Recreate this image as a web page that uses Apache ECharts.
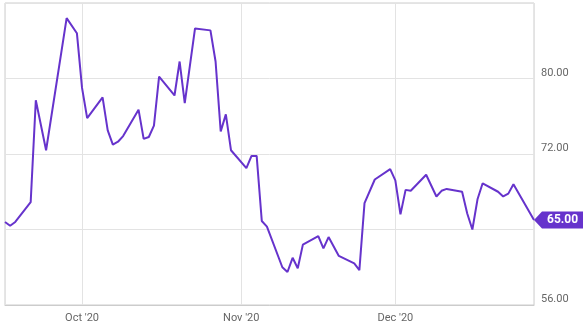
<!DOCTYPE html>
<html><head><meta charset="utf-8">
<script src="https://cdn.jsdelivr.net/npm/echarts@6/dist/echarts.min.js"></script>
<style>html,body{margin:0;padding:0;background:#fff}#c{width:586px;height:331px}</style>
</head><body><div id="c"></div>
<script>
const dates = ['2020-09-16','2020-09-17','2020-09-18','2020-09-21','2020-09-22','2020-09-24','2020-09-28','2020-09-30',
'2020-10-01','2020-10-02','2020-10-05','2020-10-06','2020-10-07','2020-10-08','2020-10-09','2020-10-12','2020-10-13','2020-10-14','2020-10-15','2020-10-16',
'2020-10-19','2020-10-20','2020-10-21','2020-10-23','2020-10-26','2020-10-27','2020-10-28','2020-10-29','2020-10-30',
'2020-11-02','2020-11-03','2020-11-04','2020-11-05','2020-11-06','2020-11-09','2020-11-10','2020-11-11','2020-11-12','2020-11-13',
'2020-11-16','2020-11-17','2020-11-18','2020-11-20','2020-11-23','2020-11-24','2020-11-25','2020-11-27','2020-11-30',
'2020-12-01','2020-12-02','2020-12-03','2020-12-04','2020-12-07','2020-12-09','2020-12-10','2020-12-11','2020-12-14','2020-12-15',
'2020-12-16','2020-12-17','2020-12-18','2020-12-21','2020-12-22','2020-12-23','2020-12-24','2020-12-28'];
const values = [64.8,64.4,64.8,66.9,77.7,72.4,86.4,84.8,
79.0,75.8,78.0,74.5,73.0,73.3,73.9,76.7,73.6,73.8,75.0,80.2,
78.2,81.8,77.4,85.3,85.1,81.8,74.4,76.2,72.4,
70.5,71.8,71.8,64.9,64.3,60.0,59.5,61.0,59.9,62.4,
63.3,62.0,63.2,61.2,60.4,59.7,66.8,69.3,70.4,
69.2,65.6,68.2,68.1,69.8,67.5,68.1,68.3,68.0,65.7,
64.0,67.2,68.9,68.0,67.5,67.8,68.8,65.0];
const yTicks = [56, 64, 72, 80, 88];
const yHidden = [64, 88];
const monthNames = ['Jan','Feb','Mar','Apr','May','Jun','Jul','Aug','Sep','Oct','Nov','Dec'];

const purple = '#6633cc';
const data = dates.map((d, i) => [d, values[i]]);
const last = data[data.length - 1];

const chart = echarts.init(document.getElementById('c'));
chart.setOption({
  animation: false,
  backgroundColor: '#fff',
  grid: { left: 5, right: 52, top: 3, bottom: 26, show: true, borderColor: '#cccccc', borderWidth: 1 },
  xAxis: {
    type: 'time',
    min: dates[0], max: dates[dates.length - 1],
    minInterval: 28 * 86400000,
    maxInterval: 31 * 86400000,
    axisLine: { show: true, lineStyle: { color: '#cccccc' } },
    axisTick: { show: false },
    splitLine: { show: true, lineStyle: { color: '#e3e3e3' } },
    axisLabel: {
      showMinLabel: false, showMaxLabel: false,
      color: '#666', fontSize: 11, fontFamily: 'Roboto', margin: 8,
      formatter: function (v) { const d = new Date(v); return monthNames[d.getMonth()] + " '" + String(d.getFullYear()).slice(2); }
    }
  },
  yAxis: {
    type: 'value', position: 'right',
    min: yTicks[0], max: yTicks[yTicks.length - 1], interval: 8,
    axisLine: { show: false }, axisTick: { show: false },
    splitLine: { show: true, lineStyle: { color: '#e3e3e3' } },
    axisLabel: {
      color: '#666', fontSize: 11, fontFamily: 'Roboto', margin: 7, verticalAlign: 'bottom',
      formatter: function (v) { return yHidden.indexOf(v) >= 0 ? '' : v.toFixed(2); }
    }
  },
  series: [{
    type: 'line', data: data, showSymbol: false, symbol: 'none',
    lineStyle: { color: purple, width: 2 },
    markPoint: {
      silent: true,
      data: [{ coord: last, value: last[1] }],
      symbol: 'path://M0,8.5L8,0L49,0L49,17L8,17Z',
      symbolSize: [49, 17],
      symbolOffset: [24.5, 0],
      symbolKeepAspect: false,
      itemStyle: { color: purple },
      label: {
        show: true, position: 'inside', offset: [4, 0],
        color: '#fff', fontWeight: 'bold', fontSize: 12, fontFamily: 'Roboto',
        formatter: function (p) { return p.value.toFixed(2); }
      }
    }
  }]
});
</script></body></html>
